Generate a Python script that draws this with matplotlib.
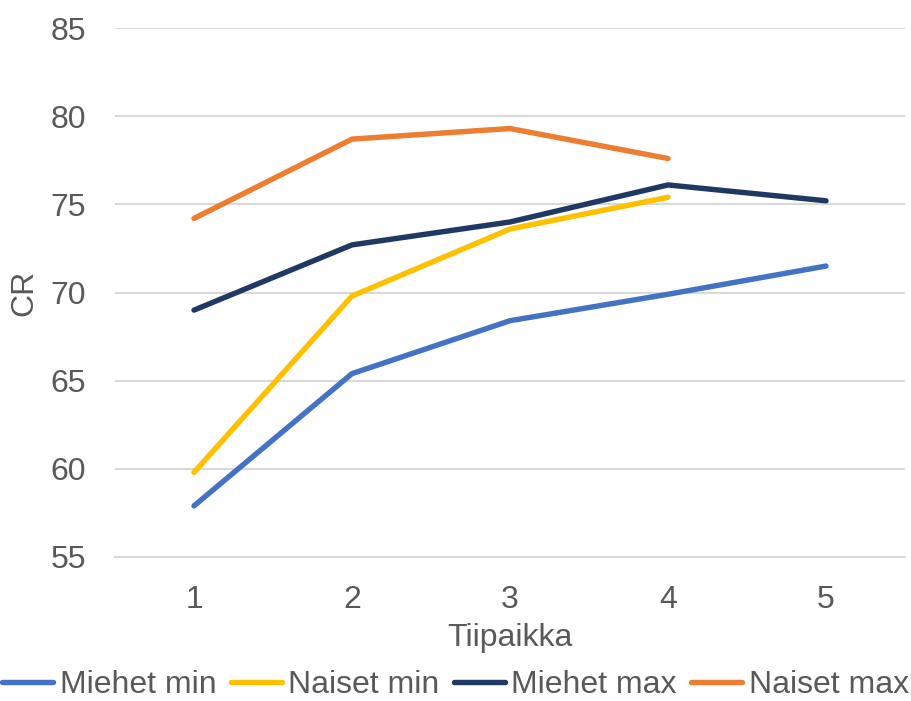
import matplotlib.pyplot as plt

plt.rcParams['font.family'] = ['Liberation Sans', 'DejaVu Sans']

tiipaikka = [1, 2, 3, 4, 5]
miehet_min = [57.9, 65.4, 68.4, 69.9, 71.5]
naiset_min = [59.8, 69.8, 73.6, 75.4]
miehet_max = [69.0, 72.7, 74.0, 76.1, 75.2]
naiset_max = [74.2, 78.7, 79.3, 77.6]

grey = '#595959'
fig = plt.figure(figsize=(9.11, 7.01), dpi=100)
ax = fig.add_axes([115 / 911, 1 - 557 / 701, 790 / 911, 529 / 701])

ax.plot(tiipaikka, miehet_min, color='#4472C4', lw=3.9, label='Miehet min', solid_capstyle='round')
ax.plot(tiipaikka[:4], naiset_min, color='#FFC000', lw=3.9, label='Naiset min', solid_capstyle='round')
ax.plot(tiipaikka, miehet_max, color='#203864', lw=3.9, label='Miehet max', solid_capstyle='round')
ax.plot(tiipaikka[:4], naiset_max, color='#ED7D31', lw=3.9, label='Naiset max', solid_capstyle='round')

ax.set_xlim(0.5, 5.5)
ax.set_ylim(55, 85)
ax.set_yticks(range(55, 86, 5))
ax.set_xticks(tiipaikka)
ax.grid(axis='y', color='#D9D9D9', lw=1.5)
ax.set_axisbelow(True)
for s in ['top', 'right', 'left']:
    ax.spines[s].set_visible(False)
ax.spines['bottom'].set_color('#D9D9D9')
ax.spines['bottom'].set_linewidth(1.5)
ax.tick_params(length=0, labelsize=23, labelcolor=grey, pad=20)
ax.tick_params(axis='y', pad=21)
ax.set_xlabel('Tiipaikka', fontsize=23, color=grey, labelpad=6)
ax.set_ylabel('CR', fontsize=23, color=grey, labelpad=8)

fig.legend(loc='lower center', bbox_to_anchor=(0.5, -0.04), ncol=4, frameon=False,
           fontsize=23, handlelength=1.6, handletextpad=0.2, columnspacing=0.45,
           labelcolor=grey)

fig.savefig('out.png', dpi=100)
